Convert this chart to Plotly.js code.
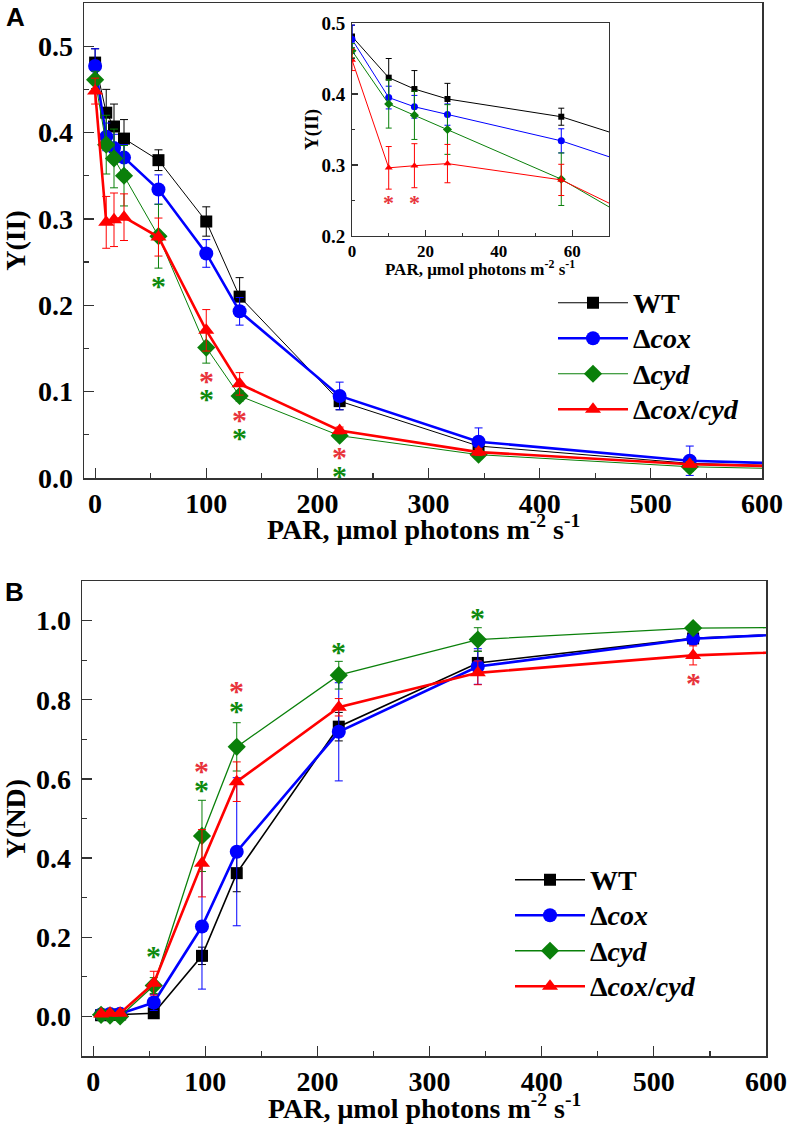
<!DOCTYPE html>
<html>
<head>
<meta charset="utf-8">
<script src="https://cdn.plot.ly/plotly-3.0.1.min.js"></script>
<style>html,body{margin:0;padding:0;background:#fff;}#chart{width:789px;height:1137px;}</style>
</head>
<body>
<div id="chart"></div>
<script>
// ---------- Panel A: Y(II) ----------
const parA = [0, 10, 17, 26, 57, 100, 130, 220, 345, 535, 800];
const wtA     = [0.481, 0.423, 0.407, 0.393, 0.368, 0.297, 0.210, 0.089, 0.037, 0.017, 0.008];
const wtAerr  = [0.016, 0.027, 0.026, 0.022, 0.012, 0.017, 0.022, 0.010, 0.004, 0.004, 0];
const coxA    = [0.477, 0.395, 0.382, 0.371, 0.334, 0.260, 0.193, 0.095, 0.042, 0.020, 0.010];
const coxAerr = [0.020, 0.016, 0.016, 0.015, 0.017, 0.016, 0.016, 0.016, 0.016, 0.017, 0];
const cydA    = [0.461, 0.386, 0.370, 0.350, 0.280, 0.151, 0.095, 0.049, 0.027, 0.013, 0.006];
const cydAerr = [0.010, 0.034, 0.034, 0.035, 0.037, 0.018, 0.006, 0.004, 0.003, 0.005, 0];
const dblA    = [0.448, 0.296, 0.299, 0.302, 0.279, 0.171, 0.109, 0.055, 0.030, 0.016, 0.008];
const dblAerr = [0.015, 0.030, 0.031, 0.027, 0.022, 0.024, 0.013, 0.004, 0.004, 0.003, 0];
// significance marks, panel A
const starA_cyd_x = [57, 100, 130, 220];
const starA_cyd_y = [0.228, 0.097, 0.052, 0.008];
const starA_dbl_x = [100, 130, 220];
const starA_dbl_y = [0.118, 0.072, 0.029];
const starInset_dbl_x = [10, 17];
const starInset_dbl_y = [0.252, 0.252];

// ---------- Panel B: Y(ND) ----------
const parB = [7, 15, 24, 54, 97, 128, 219, 343, 535, 800];
const wtB     = [0.003, 0.004, 0.005, 0.008, 0.153, 0.362, 0.732, 0.893, 0.955, 0.990];
const wtBerr  = [0.005, 0.005, 0.005, 0.005, 0.022, 0.047, 0.036, 0.030, 0.010, 0];
const coxB    = [0.005, 0.006, 0.007, 0.035, 0.227, 0.416, 0.719, 0.884, 0.954, 0.990];
const coxBerr = [0.005, 0.005, 0.005, 0.020, 0.158, 0.187, 0.124, 0.045, 0.015, 0];
const cydB    = [0.004, 0.002, 0.000, 0.078, 0.456, 0.681, 0.862, 0.952, 0.981, 0.985];
const cydBerr = [0.005, 0.005, 0.005, 0.020, 0.090, 0.061, 0.035, 0.030, 0.010, 0];
const dblB    = [0.006, 0.008, 0.008, 0.084, 0.387, 0.593, 0.781, 0.868, 0.912, 0.940];
const dblBerr = [0.005, 0.005, 0.005, 0.030, 0.085, 0.050, 0.022, 0.030, 0.024, 0];
const starB_cyd_x = [54, 97, 128, 219, 343];
const starB_cyd_y = [0.164, 0.583, 0.784, 0.932, 1.017];
const starB_dbl_x = [97, 128, 535];
const starB_dbl_y = [0.631, 0.834, 0.853];

const names = ['WT', 'Δ<i>cox</i>', 'Δ<i>cyd</i>', 'Δ<i>cox</i>/<i>cyd</i>'];
const colors = ['#000000', '#0000ff', '#0a800a', '#ff0000'];
const starGreen = '#0f8a0f', starRed = '#e8343c';
const symbols = ['square', 'circle', 'diamond', 'triangle-up'];
const sizes = [12, 14, 14, 14];
const widthsA = [1, 2.6, 1, 2.6];
const widthsB = [1.6, 2.6, 1.3, 2.6];

const W = 789, H = 1137;
const FONT = '"Liberation Serif", "Times New Roman", Times, serif';
const SANS = '"Liberation Sans", Arial, sans-serif';
const px = v => v / W, py = v => 1 - v / H;
const big = t => '<span style="font-size:28px">' + t + '</span>';

const traces = [];
const seriesA = [[wtA, wtAerr], [coxA, coxAerr], [cydA, cydAerr], [dblA, dblAerr]];
const seriesB = [[wtB, wtBerr], [coxB, coxBerr], [cydB, cydBerr], [dblB, dblBerr]];

seriesA.forEach((s, i) => {
  traces.push({
    x: parA, y: s[0], xaxis: 'x', yaxis: 'y', type: 'scatter', mode: 'lines+markers',
    name: big(names[i]), legend: 'legend',
    line: {color: colors[i], width: widthsA[i]},
    marker: {symbol: symbols[i], size: sizes[i], color: colors[i]},
    error_y: {type: 'data', array: s[1], visible: true, color: colors[i], thickness: 1, width: 4}
  });
});
seriesA.forEach((s, i) => {
  traces.push({
    x: parA, y: s[0], xaxis: 'x2', yaxis: 'y2', type: 'scatter', mode: 'lines+markers',
    showlegend: false,
    line: {color: colors[i], width: 1},
    marker: {symbol: symbols[i], size: i === 0 ? 6 : 7, color: colors[i]},
    error_y: {type: 'data', array: s[1], visible: true, color: colors[i], thickness: 1, width: 3}
  });
});
seriesB.forEach((s, i) => {
  traces.push({
    x: parB, y: s[0], xaxis: 'x3', yaxis: 'y3', type: 'scatter', mode: 'lines+markers',
    name: big(names[i]), legend: 'legend2',
    line: {color: colors[i], width: widthsB[i]},
    marker: {symbol: symbols[i], size: sizes[i], color: colors[i]},
    error_y: {type: 'data', array: s[1], visible: true, color: colors[i], thickness: 1, width: 4}
  });
});

const annotations = [];
function stars(xs, ys, xa, ya, color, size, shift) {
  xs.forEach((x, k) => annotations.push({
    x: x, y: ys[k], xref: xa, yref: ya, text: '*', showarrow: false, yshift: shift,
    xanchor: 'center', yanchor: 'middle',
    font: {family: FONT, size: size, color: color, weight: 'bold'}
  }));
}
stars(starA_cyd_x, starA_cyd_y, 'x', 'y', starGreen, 30, -4);
stars(starA_dbl_x, starA_dbl_y, 'x', 'y', starRed, 30, -4);
stars(starInset_dbl_x, starInset_dbl_y, 'x2', 'y2', starRed, 22, -3);
stars(starB_cyd_x, starB_cyd_y, 'x3', 'y3', starGreen, 30, -4);
stars(starB_dbl_x, starB_dbl_y, 'x3', 'y3', starRed, 30, -4);

const parTitle = 'PAR, μmol photons m<sup>-2</sup> s<sup>-1</sup>';
function label(text, x, y, size, family, angle) {
  annotations.push({text: text, xref: 'paper', yref: 'paper', x: px(x), y: py(y),
    xanchor: 'center', yanchor: 'middle', showarrow: false, textangle: angle || 0,
    font: {family: family || FONT, size: size, color: '#000', weight: 'bold'}});
}
label(parTitle, 423, 527, 28);
label(parTitle, 424, 1106, 28);
label(parTitle, 480, 268, 17);
label('Y(II)', 312, 130, 19, FONT, -90);
label('A', 15, 17, 26, SANS);
label('B', 14, 592, 26, SANS);

const axisCommon = {
  showline: true, linecolor: '#333', linewidth: 1.5, mirror: true,
  ticks: 'inside', tickcolor: '#333', tickwidth: 1.2, showgrid: false, zeroline: false,
  tickfont: {family: FONT, size: 28, color: '#000', weight: 'bold'}
};
const titleFont = {family: FONT, size: 28, color: '#000', weight: 'bold'};

const layout = {
  width: W, height: H, margin: {l: 0, r: 0, t: 0, b: 0},
  paper_bgcolor: '#fff', plot_bgcolor: '#fff',
  font: {family: FONT, color: '#000', weight: 'bold'},
  showlegend: true,
  xaxis: Object.assign({}, axisCommon, {
    domain: [px(84), px(762)], range: [-10, 600], dtick: 100, tick0: 0, ticklen: 10,
    minor: {ticks: 'inside', dtick: 50, ticklen: 5, tickcolor: '#333', tickwidth: 1.2},
    anchor: 'y', ticklabelstandoff: 0
  }),
  yaxis: Object.assign({}, axisCommon, {
    domain: [py(478), py(3)], range: [0, 0.55], dtick: 0.1, tick0: 0, ticklen: 10, tickformat: '.1f',
    minor: {ticks: 'inside', dtick: 0.05, ticklen: 5, tickcolor: '#333', tickwidth: 1.2},
    anchor: 'x', ticklabelstandoff: 4,
    title: {text: 'Y(II)', font: titleFont, standoff: 12}
  }),
  xaxis2: Object.assign({}, axisCommon, {
    domain: [px(352), px(609)], range: [0, 70], dtick: 20, tick0: 0, ticklen: 6,
    minor: {ticks: 'inside', dtick: 10, ticklen: 3, tickcolor: '#333', tickwidth: 1},
    anchor: 'y2', linewidth: 1, ticklabelstandoff: 0,
    tickfont: {family: FONT, size: 17, color: '#000', weight: 'bold'}
  }),
  yaxis2: Object.assign({}, axisCommon, {
    domain: [py(236), py(23)], range: [0.2, 0.5], dtick: 0.1, tick0: 0.2, ticklen: 6, tickformat: '.1f',
    minor: {ticks: 'inside', dtick: 0.05, ticklen: 3, tickcolor: '#333', tickwidth: 1},
    anchor: 'x2', linewidth: 1, ticklabelstandoff: 2,
    tickfont: {family: FONT, size: 19, color: '#000', weight: 'bold'}
  }),
  xaxis3: Object.assign({}, axisCommon, {
    domain: [px(82), px(766)], range: [-10, 600], dtick: 100, tick0: 0, ticklen: 10,
    minor: {ticks: 'inside', dtick: 50, ticklen: 5, tickcolor: '#333', tickwidth: 1.2},
    anchor: 'y3', ticklabelstandoff: 0
  }),
  yaxis3: Object.assign({}, axisCommon, {
    domain: [py(1056), py(581)], range: [-0.1, 1.1], dtick: 0.2, tick0: 0, ticklen: 10, tickformat: '.1f',
    minor: {ticks: 'inside', dtick: 0.1, ticklen: 5, tickcolor: '#333', tickwidth: 1.2},
    anchor: 'x3', ticklabelstandoff: 4,
    title: {text: 'Y(ND)', font: titleFont, standoff: 12}
  }),
  legend: {
    x: px(553), y: py(280), xanchor: 'left', yanchor: 'top', bgcolor: 'rgba(0,0,0,0)',
    font: {family: FONT, size: 25, color: '#000', weight: 'bold'}, itemwidth: 70, tracegroupgap: 0
  },
  legend2: {
    x: px(510), y: py(857), xanchor: 'left', yanchor: 'top', bgcolor: 'rgba(0,0,0,0)',
    font: {family: FONT, size: 25, color: '#000', weight: 'bold'}, itemwidth: 70, tracegroupgap: 0
  },
  annotations: annotations
};

Plotly.newPlot('chart', traces, layout, {staticPlot: true, displayModeBar: false});
</script>
</body>
</html>
